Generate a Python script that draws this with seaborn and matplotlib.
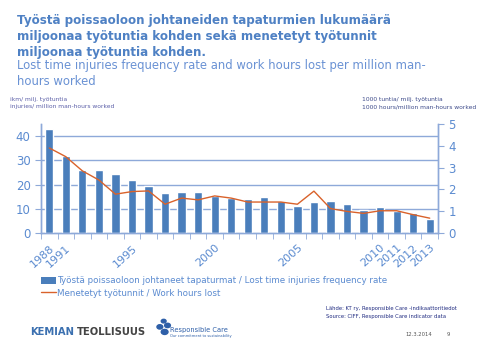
import numpy as np
import pandas as pd
import matplotlib
matplotlib.use('Agg')
import matplotlib.pyplot as plt
import seaborn as sns
from matplotlib.patches import Patch
from matplotlib.lines import Line2D

# data
years = ['1988', '1991', '1992', '1993', '1994', '1995', '1996', '1997', '1998', '1999',
         '2000', '2001', '2002', '2003', '2004', '2005', '2006', '2007', '2008', '2009',
         '2010', '2011', '2012', '2013']
injury_rate = [42.8, 31.8, 26.0, 26.0, 24.4, 21.9, 19.5, 16.5, 17.0, 17.0,
               15.3, 14.3, 14.1, 14.9, 13.3, 11.2, 12.9, 13.3, 12.0, 9.6,
               10.7, 8.9, 8.3, 5.9]
hours_lost = [3.9, 3.5, 2.85, 2.43, 1.78, 1.9, 1.93, 1.32, 1.6, 1.52,
              1.7, 1.6, 1.42, 1.42, 1.42, 1.32, 1.92, 1.12, 0.99, 0.9,
              1.02, 1.02, 0.84, 0.68]
shown_labels = ['1988', '1991', '1995', '2000', '2005', '2010', '2011', '2012', '2013']

BAR_COLOR = '#4A7EBB'
LINE_COLOR = '#D9622B'
AXIS_COLOR = '#8EA9D9'
TICK_COLOR = '#5B8BD0'
TITLE_COLOR = '#4F81C4'
SUB_COLOR = '#6A92D4'

df = pd.DataFrame({'Year': years, 'Injuries': injury_rate, 'Hours': hours_lost})

sns.set_style('white')
plt.rcParams['font.family'] = ['DejaVu Sans']

fig = plt.figure(figsize=(4.8, 3.6), dpi=100)
ax = fig.add_axes([0.0854, 0.3528, 0.8271, 0.3028])

sns.barplot(x='Year', y='Injuries', data=df, color=BAR_COLOR, width=0.5,
            saturation=1, ax=ax, zorder=3)
ax.set_ylim(0, 45)
ax.set_yticks([0, 10, 20, 30, 40])
ax.set_xlim(-0.5, len(years) - 0.5)
ax.set_xlabel('')
ax.set_ylabel('')
for y in [10, 20, 30, 40]:
    ax.axhline(y, color=AXIS_COLOR, lw=1, zorder=1)

ax2 = ax.twinx()
sns.lineplot(x='Year', y='Hours', data=df, color=LINE_COLOR, lw=1, sort=False, ax=ax2)
ax2.set_ylim(0, 5)
ax2.set_yticks([0, 1, 2, 3, 4, 5])
ax2.set_xlim(-0.5, len(years) - 0.5)
ax2.set_xlabel('')
ax2.set_ylabel('')

# x tick labels: only a few years shown, tick marks between categories
ax.set_xticks(range(len(years)))
ax.set_xticklabels([y if y in shown_labels else '' for y in years],
                   rotation=42, ha='right', rotation_mode='anchor')
ax.tick_params(axis='x', length=0, pad=7, labelsize=8, colors=TICK_COLOR)
ax.set_xticks(np.arange(-0.5, len(years)), minor=True)
ax.tick_params(axis='x', which='minor', length=4, color=AXIS_COLOR, direction='out', bottom=True)
ax.tick_params(axis='y', length=4, color=AXIS_COLOR, labelsize=8.5, labelcolor=TICK_COLOR,
               direction='out', left=True)
ax2.tick_params(axis='y', length=4, color=AXIS_COLOR, labelsize=8.5, labelcolor=TICK_COLOR,
                direction='out', right=True)

for a in (ax, ax2):
    a.spines['top'].set_visible(False)
    for s in ('left', 'right', 'bottom'):
        a.spines[s].set_color(AXIS_COLOR)
        a.spines[s].set_linewidth(1)

# titles
fig.text(0.035, 0.962, 'Työstä poissaoloon johtaneiden tapaturmien lukumäärä\n'
         'miljoonaa työtuntia kohden sekä menetetyt työtunnit\n'
         'miljoonaa työtuntia kohden.',
         fontsize=8.6, fontweight='bold', color=TITLE_COLOR, va='top', ha='left',
         linespacing=1.32)
fig.text(0.035, 0.835, 'Lost time injuries frequency rate and work hours lost per million man-\n'
         'hours worked', fontsize=8.4, color=SUB_COLOR, va='top', ha='left', linespacing=1.3)

# axis unit notes
fig.text(0.02, 0.725, 'ikm/ milj. työtuntia', fontsize=4.3, color='#5B5FA8', va='center', ha='left')
fig.text(0.02, 0.703, 'injuries/ million man-hours worked', fontsize=4.3, color='#5B5FA8',
         va='center', ha='left')
fig.text(0.755, 0.725, '1000 tuntia/ milj. työtuntia', fontsize=4.3, color='#3D4A8A',
         va='center', ha='left')
fig.text(0.755, 0.703, '1000 hours/million man-hours worked', fontsize=4.3, color='#3D4A8A',
         va='center', ha='left')

# legend
handles = [Patch(facecolor=BAR_COLOR, edgecolor='none'),
           Line2D([0], [0], color=LINE_COLOR, lw=1)]
labels = ['Työstä poissaoloon johtaneet tapaturmat / Lost time injuries frequency rate',
          'Menetetyt työtunnit / Work hours lost']
fig.legend(handles, labels, loc='upper left', bbox_to_anchor=(0.085, 0.232),
           frameon=False, fontsize=6.3, labelcolor=TICK_COLOR, handlelength=1.7,
           handletextpad=0.1, labelspacing=0.35, borderpad=0, borderaxespad=0,
           handleheight=0.8)

# footer
fig.text(0.68, 0.142, 'Lähde: KT ry, Responsible Care -indikaattoritiedot', fontsize=3.8,
         color='#1F2A80', va='center', ha='left')
fig.text(0.68, 0.121, 'Source: CIFF, Responsible Care indicator data', fontsize=3.8,
         color='#1F2A80', va='center', ha='left')
fig.text(0.062, 0.078, 'KEMIAN', fontsize=7.2, fontweight='bold', color='#3B70B0',
         va='center', ha='left')
fig.text(0.16, 0.078, 'TEOLLISUUS', fontsize=7.2, fontweight='bold', color='#444444',
         va='center', ha='left')
fig.text(0.355, 0.083, 'Responsible Care', fontsize=4.8, color='#2E5FA8', va='center', ha='left')
fig.text(0.355, 0.068, 'Our commitment to sustainability', fontsize=2.6, color='#2E5FA8',
         va='center', ha='left')
for cx, cy, r in [(0.343, 0.078, 0.007), (0.333, 0.092, 0.006), (0.349, 0.096, 0.006), (0.341, 0.108, 0.005)]:
    fig.patches.append(plt.Circle((cx, cy), r, transform=fig.transFigure, color='#2E5FA8'))
fig.text(0.845, 0.072, '12.3.2014', fontsize=3.8, color='#555555', va='center', ha='left')
fig.text(0.93, 0.072, '9', fontsize=3.8, color='#555555', va='center', ha='left')

fig.savefig('out.png', dpi=100)
